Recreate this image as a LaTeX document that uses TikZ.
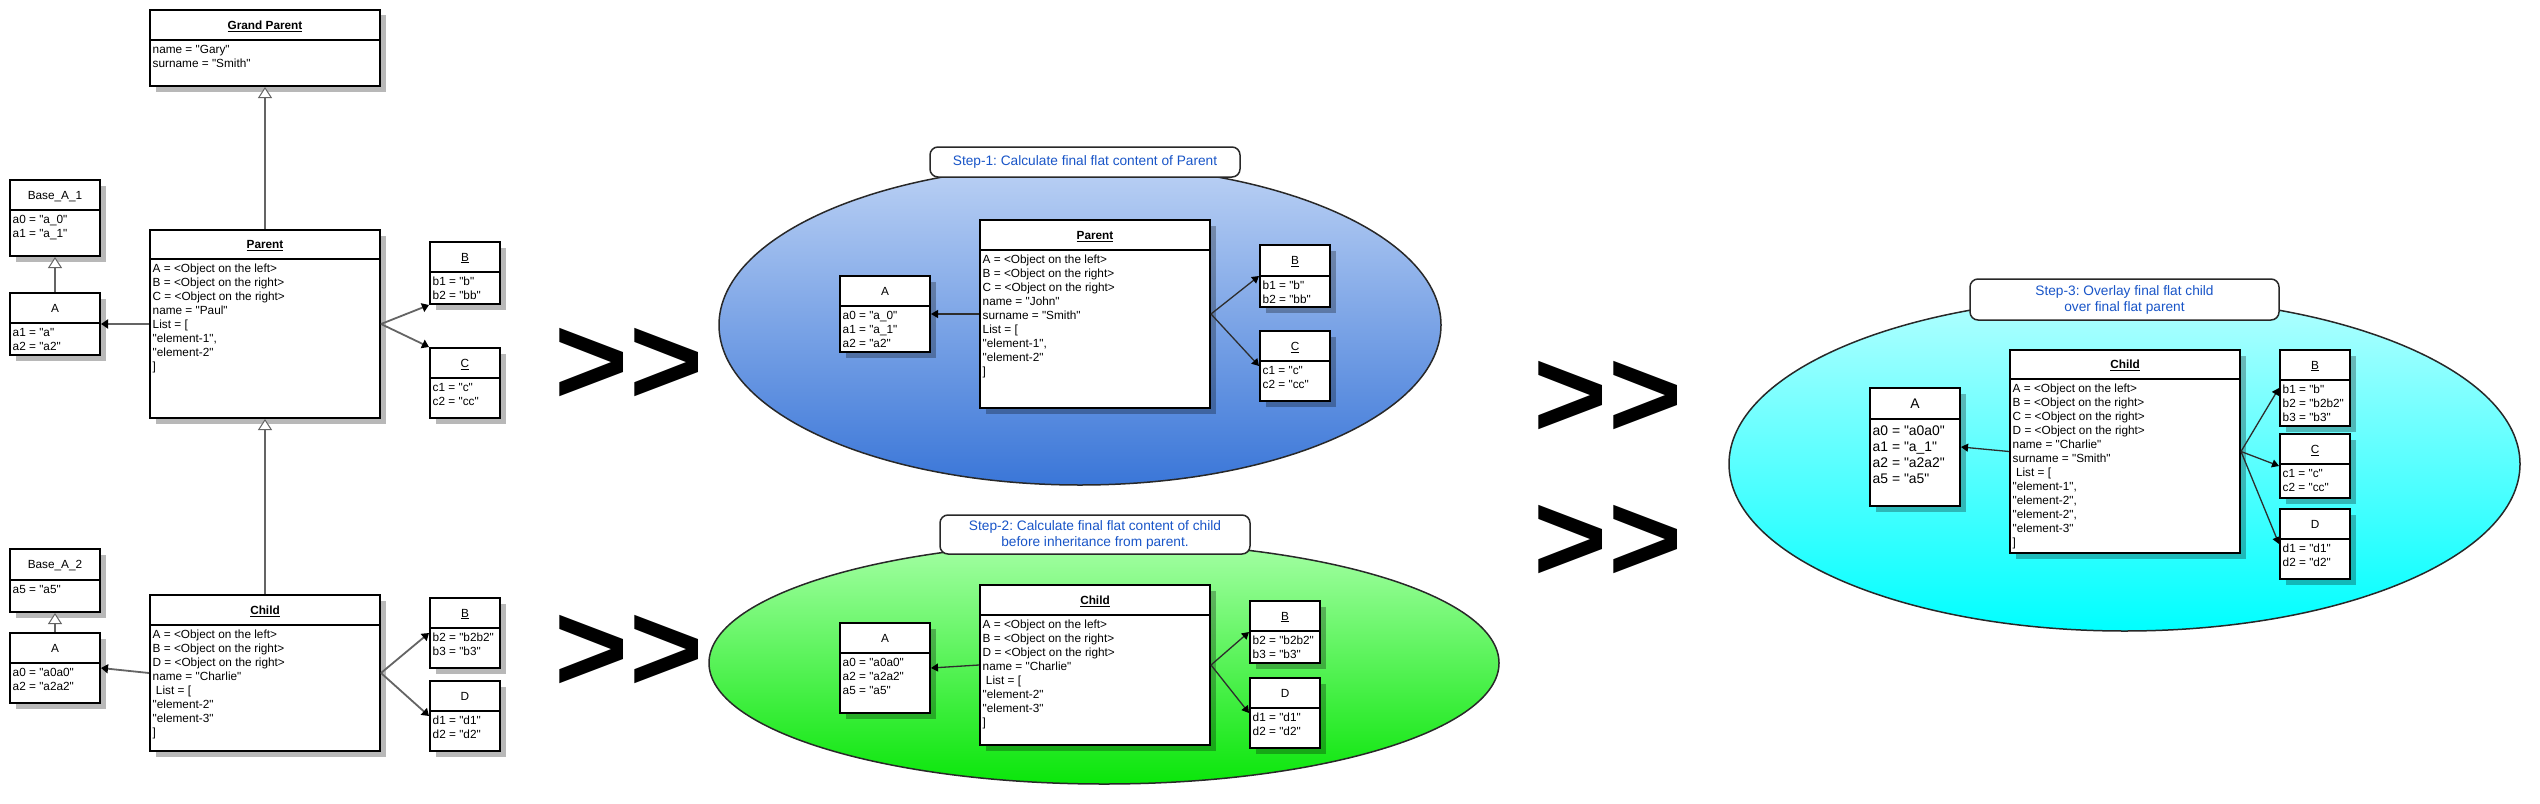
\documentclass[tikz,border=0pt]{standalone}
\usepackage{fontspec}
\setmainfont{Liberation Sans}[Ligatures=TeXOff]
\usetikzlibrary{arrows.meta,shapes.geometric,shadows}
\frenchspacing
\definecolor{steptext}{RGB}{25,85,200}
\definecolor{edgedark}{RGB}{40,40,40}
\definecolor{connL}{RGB}{100,100,100}
\definecolor{connR}{RGB}{45,45,45}
\definecolor{bluetop}{RGB}{187,209,244}
\definecolor{bluebot}{RGB}{58,118,216}
\definecolor{greentop}{RGB}{165,255,165}
\definecolor{greenbot}{RGB}{10,230,10}
\definecolor{cyantop}{RGB}{178,255,255}
\definecolor{cyanbot}{RGB}{0,255,255}
\newcommand\bodyfont{\fontsize{11.8bp}{14bp}\selectfont}
\newcommand\bigbodyfont{\fontsize{13.9bp}{16bp}\selectfont}
\newcommand\stepfont{\fontsize{13.7bp}{16bp}\selectfont}
\newcommand\arrowfont{\fontsize{127bp}{127bp}\selectfont\bfseries}
\newcommand\boxfont{\bodyfont}
\newcommand\boxcap{4.2}
\newcommand\boxtop{3.4}
\tikzset{
  objbox/.style={draw=black, line width=2bp, fill=white, inner sep=0pt,
    drop shadow={shadow xshift=5.5bp, shadow yshift=-5.5bp, opacity=0.28, fill=black}},
  divline/.style={line width=2bp, black},
  hdrtext/.style={anchor=base, inner sep=0pt, font=\boxfont},
  bodytext/.style={anchor=north west, inner sep=0pt, font=\boxfont},
  stepellipse/.style={ellipse, draw=edgedark, line width=1.5bp, inner sep=0pt},
  steplabel/.style={draw=edgedark, line width=1.5bp, fill=white, rounded corners=8bp,
    inner sep=0pt, align=center, font=\stepfont, text=steptext},
  bigarrow/.style={anchor=north, inner sep=0pt, font=\arrowfont},
  assocL/.style={draw=connL, line width=1.8bp, -{Triangle[length=7bp,width=9bp,color=black]}},
  inheritL/.style={draw=connL, line width=1.8bp, -{Triangle[length=11bp,width=14bp,fill=white,line width=1bp]}},
  assocR/.style={draw=connR, line width=1.3bp, -{Triangle[length=7bp,width=8bp,color=black]}},
}
\newcommand\objbox[8]{%
  \node[objbox, minimum width={(#4-#2)*1bp}, minimum height={(#5-#3)*1bp}] (#1) at ({(#2+#4)/2},{(#3+#5)/2}) {};
  \draw[divline] (#2,#6) -- (#4,#6);
  \node[hdrtext] (#1-h) at ({(#2+#4)/2},{(#3+#6)/2+\boxcap}) {#7};
  \node[bodytext] (#1-b) at ({#2+2.5},{#6+\boxtop}) {\begin{tabular}{@{}l@{}}#8\end{tabular}};
}
\begin{document}
\begin{tikzpicture}[x=1bp,y=-1bp]
\useasboundingbox (0,0) rectangle (2540,804);
\fill[white] (0,0) rectangle (2540,804);

% ---- ellipses ----
\node[stepellipse, minimum width=722bp, minimum height=320bp, top color=bluetop, bottom color=bluebot] (e1) at (1080,325) {};
\node[stepellipse, minimum width=790bp, minimum height=242bp, top color=greentop, bottom color=greenbot] (e2) at (1104,663) {};
\node[stepellipse, minimum width=791bp, minimum height=334bp, top color=cyantop, bottom color=cyanbot] (e3) at (2124.5,464) {};

% ---- step labels ----
\node[steplabel, minimum width=310bp, minimum height=30bp] (s1) at (1085,162) {Step-1: Calculate final flat content of Parent};
\node[steplabel, minimum width=310bp, minimum height=39bp] (s2) at (1095,534.5) {Step-2: Calculate final flat content of child\\before inheritance from parent.};
\node[steplabel, minimum width=309bp, minimum height=41bp] (s3) at (2124.5,299.5) {Step-3: Overlay final flat child\\over final flat parent};

% ---- big >> ----
\node[bigarrow] (g1) at (629,328) {>>};
\node[bigarrow] (g2) at (629,615) {>>};
\node[bigarrow] (g3) at (1608,361) {>>};
\node[bigarrow] (g4) at (1608,505) {>>};

% ---- left diagram ----
\objbox{gp}{150}{10}{380}{86}{40}{\underline{\textbf{Grand Parent}}}{name = "Gary"\\surname = "Smith"}
\objbox{ba1}{10}{180}{100}{256}{210}{Base\_A\_1}{a0 = "a\_0"\\a1 = "a\_1"}
\objbox{a1}{10}{293}{100}{355}{323}{A}{a1 = "a"\\a2 = "a2"}
\objbox{par}{150}{230}{380}{418}{259}{\underline{\textbf{Parent}}}{A = <Object on the left>\\B = <Object on the right>\\C = <Object on the right>\\name = "Paul"\\List = [\\"element-1",\\"element-2"\\]}
\objbox{b1}{430}{242}{500}{304}{272}{\underline{B}}{b1 = "b"\\b2 = "bb"}
\objbox{c1}{430}{348}{500}{418}{378}{\underline{C}}{c1 = "c"\\c2 = "cc"}
\objbox{ba2}{10}{549}{100}{612}{580}{Base\_A\_2}{a5 = "a5"}
\objbox{a2}{10}{633}{100}{703}{663}{A}{a0 = "a0a0"\\a2 = "a2a2"}
\objbox{ch}{150}{595}{380}{751}{625}{\underline{\textbf{Child}}}{A = <Object on the left>\\B = <Object on the right>\\D = <Object on the right>\\name = "Charlie"\\~List = [\\"element-2"\\"element-3"\\]}
\objbox{b2}{430}{598}{500}{668}{628}{\underline{B}}{b2 = "b2b2"\\b3 = "b3"}
\objbox{d2}{430}{681}{500}{751}{711}{D}{d1 = "d1"\\d2 = "d2"}

% ---- step 1 ----
\objbox{ma}{840}{276}{930}{352}{306}{A}{a0 = "a\_0"\\a1 = "a\_1"\\a2 = "a2"}
\objbox{mp}{980}{220}{1210}{408}{250}{\underline{\textbf{Parent}}}{A = <Object on the left>\\B = <Object on the right>\\C = <Object on the right>\\name = "John"\\surname = "Smith"\\List = [\\"element-1",\\"element-2"\\]}
\objbox{mb}{1260}{245}{1330}{307}{276}{\underline{B}}{b1 = "b"\\b2 = "bb"}
\objbox{mc}{1260}{331}{1330}{401}{361}{\underline{C}}{c1 = "c"\\c2 = "cc"}

% ---- step 2 ----
\objbox{na}{840}{623}{930}{713}{653}{A}{a0 = "a0a0"\\a2 = "a2a2"\\a5 = "a5"}
\objbox{nc}{980}{585}{1210}{745}{615}{\underline{\textbf{Child}}}{A = <Object on the left>\\B = <Object on the right>\\D = <Object on the right>\\name = "Charlie"\\~List = [\\"element-2"\\"element-3"\\]}
\objbox{nb}{1250}{601}{1320}{663}{631}{\underline{B}}{b2 = "b2b2"\\b3 = "b3"}
\objbox{nd}{1250}{678}{1320}{748}{708}{D}{d1 = "d1"\\d2 = "d2"}

% ---- step 3 ----
{\renewcommand\boxfont{\bigbodyfont}\renewcommand\boxcap{5}\renewcommand\boxtop{4.8}%
\objbox{ra}{1870}{388}{1960}{506}{419}{A}{a0 = "a0a0"\\a1 = "a\_1"\\a2 = "a2a2"\\a5 = "a5"}}
\objbox{rc}{2010}{350}{2240}{553}{379}{\underline{\textbf{Child}}}{A = <Object on the left>\\B = <Object on the right>\\C = <Object on the right>\\D = <Object on the right>\\name = "Charlie"\\surname = "Smith"\\~List = [\\"element-1",\\"element-2",\\"element-2",\\"element-3"\\]}
\objbox{rb}{2280}{350}{2350}{426}{380}{\underline{B}}{b1 = "b"\\b2 = "b2b2"\\b3 = "b3"}
\objbox{rcc}{2280}{434}{2350}{498}{464}{\underline{C}}{c1 = "c"\\c2 = "cc"}
\objbox{rd}{2280}{509}{2350}{579}{539}{D}{d1 = "d1"\\d2 = "d2"}

% ---- connectors ----
\draw[inheritL] (par.north) -- (gp.south);
\draw[inheritL] (a1.north) -- (ba1.south);
\draw[inheritL] (ch.north) -- (par.south);
\draw[inheritL] (a2.north) -- (ba2.south);
\draw[assocL] (par.west) -- (a1.east);
\draw[assocL] (par.east) -- (b1.south west);
\draw[assocL] (par.east) -- (c1.north west);
\draw[assocL] (ch.west) -- (a2.east);
\draw[assocL] (ch.east) -- (b2.west);
\draw[assocL] (ch.east) -- (d2.west);

\draw[assocR] (mp.west) -- (ma.east);
\draw[assocR] (mp.east) -- (mb.west);
\draw[assocR] (mp.east) -- (mc.west);
\draw[assocR] (nc.west) -- (na.east);
\draw[assocR] (nc.east) -- (nb.west);
\draw[assocR] (nc.east) -- (nd.west);

\draw[assocR] (rc.west) -- (ra.east);
\draw[assocR] (rc.east) -- (rb.west);
\draw[assocR] (rc.east) -- (rcc.west);
\draw[assocR] (rc.east) -- (rd.west);
\end{tikzpicture}
\end{document}
